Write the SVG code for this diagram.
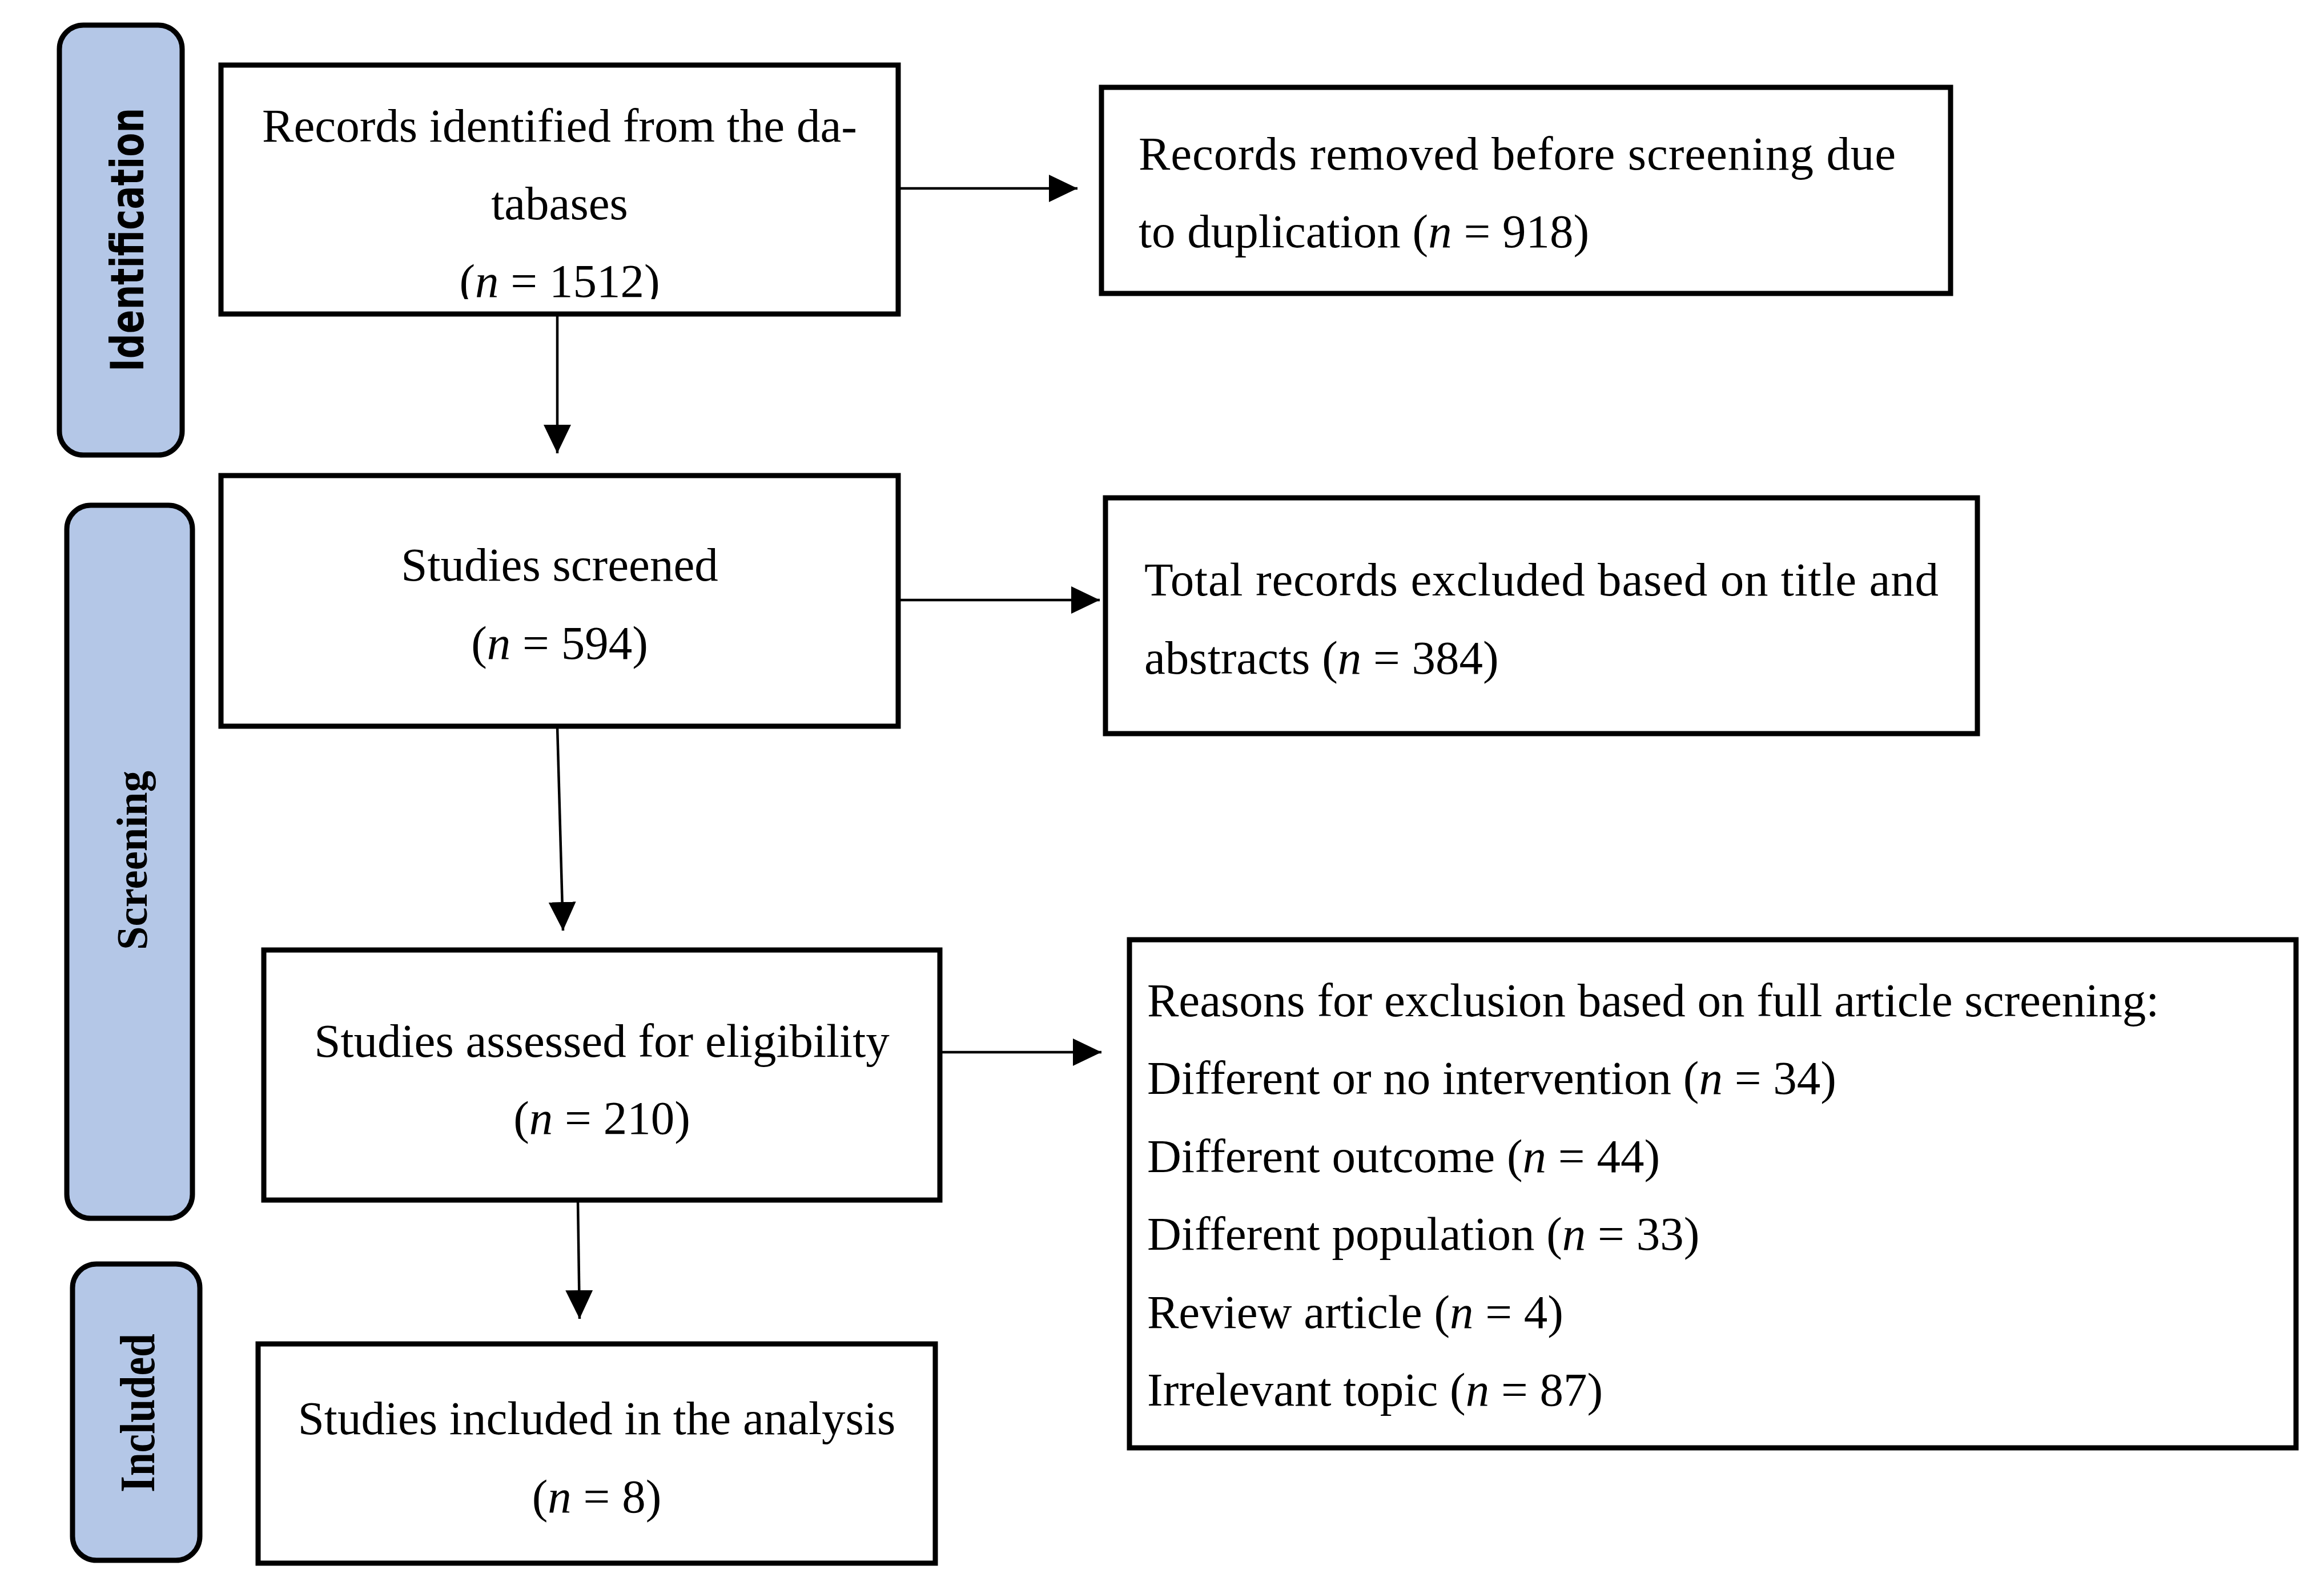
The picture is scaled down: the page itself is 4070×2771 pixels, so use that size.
<svg xmlns="http://www.w3.org/2000/svg" width="4070" height="2771" viewBox="0 0 4070 2771">
<style>
.box{fill:#fff;stroke:#000;stroke-width:9}
.pill{fill:#B4C7E7;stroke:#000;stroke-width:9}
.t{font-family:"Liberation Serif","Times New Roman",serif;font-size:83px;fill:#000}
.c{text-anchor:middle}
.i{font-style:italic}
.lab{font-weight:bold;fill:#000;text-anchor:middle}
.conn{stroke:#000;stroke-width:4.5;fill:none;marker-end:url(#ah)}
</style>
<defs>
<marker id="ah" markerUnits="userSpaceOnUse" markerWidth="50" markerHeight="48" refX="50" refY="24" orient="auto">
<path d="M0,0 L50,24 L0,48 Z" fill="#000"/>
</marker>
<clipPath id="clip1"><rect x="387" y="114" width="1186" height="410"/></clipPath>
</defs>
<rect width="4070" height="2771" fill="#fff"/>

<g id="phase-identification">
<rect class="pill" x="104" y="44" width="215" height="753" rx="42"/>
<text class="lab" transform="translate(251,420) rotate(-90)" font-family="'DejaVu Sans',Verdana,sans-serif" font-size="80" textLength="462" lengthAdjust="spacingAndGlyphs">Identification</text>
</g>
<g id="phase-screening">
<rect class="pill" x="117" y="885" width="220" height="1249" rx="42"/>
<text class="lab" transform="translate(257,1507) rotate(-90)" font-family="'Liberation Serif','Times New Roman',serif" font-size="76" textLength="314" lengthAdjust="spacingAndGlyphs">Screening</text>
</g>
<g id="phase-included">
<rect class="pill" x="127" y="2214" width="223" height="519" rx="42"/>
<text class="lab" transform="translate(270,2475) rotate(-90)" font-family="'Liberation Serif','Times New Roman',serif" font-size="86" textLength="278" lengthAdjust="spacingAndGlyphs">Included</text>
</g>

<g id="connectors">
<line class="conn" x1="1573" y1="330" x2="1887" y2="330"/>
<line class="conn" x1="976" y1="550" x2="976" y2="794"/>
<line class="conn" x1="1573" y1="1051" x2="1926" y2="1051"/>
<line class="conn" x1="976" y1="1272" x2="986" y2="1630"/>
<line class="conn" x1="1646" y1="1843" x2="1929" y2="1843"/>
<line class="conn" x1="1012" y1="2102" x2="1015" y2="2310"/>
</g>

<g id="records-identified">
<rect class="box" x="387" y="114" width="1186" height="436"/>
<g clip-path="url(#clip1)">
<text class="t c" x="980" y="248">Records identified from the da-</text>
<text class="t c" x="980" y="384">tabases</text>
<text class="t c" x="980" y="520">(<tspan class="i">n</tspan> = 1512)</text>
</g>
</g>

<g id="records-removed">
<rect class="box" x="1929" y="153" width="1487" height="361"/>
<text class="t" x="1994" y="297" textLength="1326" lengthAdjust="spacing">Records removed before screening due</text>
<text class="t" x="1994" y="433">to duplication (<tspan class="i">n</tspan> = 918)</text>
</g>

<g id="studies-screened">
<rect class="box" x="387" y="833" width="1186" height="439"/>
<text class="t c" x="980" y="1017">Studies screened</text>
<text class="t c" x="980" y="1154">(<tspan class="i">n</tspan> = 594)</text>
</g>

<g id="records-excluded">
<rect class="box" x="1936" y="872" width="1527" height="413"/>
<text class="t" x="2004" y="1043" textLength="1391" lengthAdjust="spacing">Total records excluded based on title and</text>
<text class="t" x="2004" y="1180">abstracts (<tspan class="i">n</tspan> = 384)</text>
</g>

<g id="studies-assessed">
<rect class="box" x="462" y="1664" width="1184" height="438"/>
<text class="t c" x="1054" y="1851">Studies assessed for eligibility</text>
<text class="t c" x="1054" y="1986">(<tspan class="i">n</tspan> = 210)</text>
</g>

<g id="reasons-excluded">
<rect class="box" x="1978" y="1646" width="2043" height="890"/>
<text class="t" x="2009" y="1780">Reasons for exclusion based on full article screening:</text>
<text class="t" x="2009" y="1916">Different or no intervention (<tspan class="i">n</tspan> = 34)</text>
<text class="t" x="2009" y="2053">Different outcome (<tspan class="i">n</tspan> = 44)</text>
<text class="t" x="2009" y="2189">Different population (<tspan class="i">n</tspan> = 33)</text>
<text class="t" x="2009" y="2326">Review article (<tspan class="i">n</tspan> = 4)</text>
<text class="t" x="2009" y="2462">Irrelevant topic (<tspan class="i">n</tspan> = 87)</text>
</g>

<g id="studies-included">
<rect class="box" x="452" y="2354" width="1186" height="384"/>
<text class="t c" x="1045" y="2512">Studies included in the analysis</text>
<text class="t c" x="1045" y="2649">(<tspan class="i">n</tspan> = 8)</text>
</g>
</svg>
